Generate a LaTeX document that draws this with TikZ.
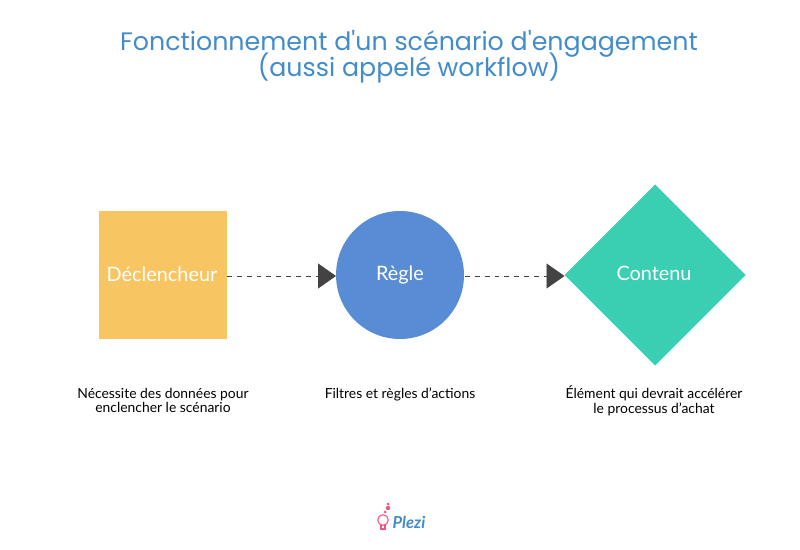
\documentclass[tikz,border=0pt]{standalone}
\usepackage{fontspec}
\setmainfont{Lato}
\newfontfamily\titlefont{Poppins}
\usetikzlibrary{arrows.meta}
\definecolor{titleblue}{HTML}{428CCB}
\definecolor{squareyellow}{HTML}{F7C562}
\definecolor{circleblue}{HTML}{588DD5}
\definecolor{diamondgreen}{HTML}{3ACFB3}
\definecolor{arrowgrey}{HTML}{434343}
\definecolor{logopink}{HTML}{F2557F}
\tikzset{
    shapelabel/.style={text=white, font=\fontsize{11.3}{12}\selectfont, inner sep=0pt},
    caption/.style={align=center, font=\fontsize{7.9}{8.3}\selectfont, text=black},
    flow/.style={dash pattern=on 2.8pt off 2.8pt, line width=0.55pt, draw=arrowgrey, -{Triangle[length=0.36cm, width=0.5cm]}}
}
\begin{document}
\begin{tikzpicture}[x=0.02cm, y=-0.02cm]
    \useasboundingbox (0,0) rectangle (800,550);

    \node [align=center, text=titleblue, font=\titlefont\fontsize{14.4}{14.8}\selectfont] (title) at (409,57) {Fonctionnement d'un scénario d'engagement\\[-3.6pt](aussi appelé workflow)};

    \fill [squareyellow] (99,211) rectangle (227,339);
    \fill [circleblue] (400,275) circle [radius=1.28cm];
    \fill [diamondgreen] (655,184.5) -- (745.5,275) -- (655,365.5) -- (564.5,275) -- cycle;

    \coordinate (square) at (227,276);
    \coordinate (circleleft) at (336,276);
    \coordinate (circleright) at (465,276);
    \coordinate (diamondleft) at (564.5,276);
    \draw [flow] (square) -- (circleleft);
    \draw [flow] (circleright) -- (diamondleft);

    \node [shapelabel] (trigger) at (162,274) {Déclencheur};
    \node [shapelabel] (rule) at (400,275) {Règle};
    \node [shapelabel] (content) at (654,273.5) {Contenu};

    \node [caption] (triggertext) at (163,400.5) {Nécessite des données pour\\enclencher le scénario};
    \node [caption] (ruletext) at (400,394) {Filtres et règles d'actions};
    \node [caption] (contenttext) at (654,400.5) {Élément qui devrait accélérer\\le processus d'achat};

    % logo
    \draw [logopink, line width=0.6pt] (383,520) circle [radius=0.105cm];
    \draw [logopink, line width=0.6pt] (381,525) -- (381,529) -- (385,529) -- (385,525);
    \fill [logopink] (385,512) circle [radius=0.03cm];
    \fill [logopink] (388,504) circle [radius=0.03cm];
    \fill [logopink] (388,508) circle [radius=0.045cm];
    \node [text=titleblue, font=\fontsize{9.4}{10}\selectfont\bfseries\itshape, inner sep=0pt] (plezi) at (409,522) {Plezi};
\end{tikzpicture}
\end{document}
